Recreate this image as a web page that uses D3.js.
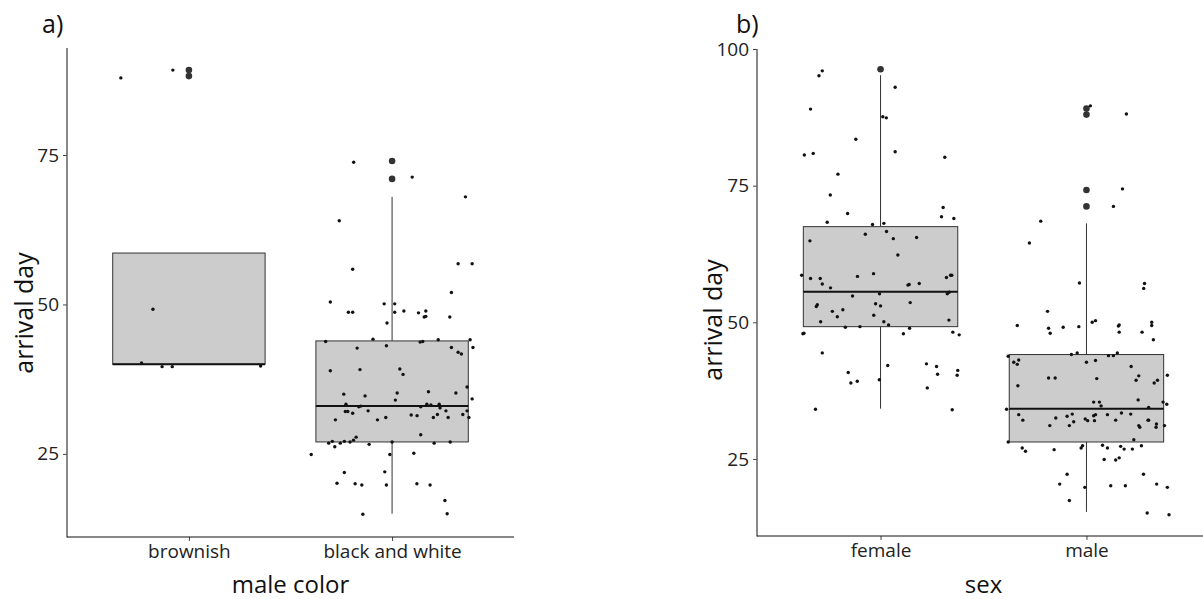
<!DOCTYPE html>
<meta charset="utf-8">
<body style="margin:0;background:#fff">
<script src="https://d3js.org/d3.v7.min.js"></script>
<script>
// panel a: male colour
var colorGroups = ["brownish", "black and white"];
var colorQ1 = [40, 27.0];
var colorMedian = [40, 33.0];
var colorQ3 = [58.6, 43.9];
var colorWhiskerLow = [40, 15.0];
var colorWhiskerHigh = [58.6, 68.0];
var colorOutliers = [[88.2, 89.2], [71.0, 74.0]];
var colorYTicks = [25, 50, 75];

// jittered raw points: [x offset in category units, arrival day]
var brownishPoints = [[-0.335, 87.9], [-0.079, 89.2], [-0.177, 49.2], [-0.233, 40.2], [-0.132, 39.6], [-0.082, 39.6], [0.353, 39.7]];
var blackWhitePoints = [
  [-0.189, 73.8], [0.099, 71.3], [0.361, 68.0], [-0.260, 64.0], [-0.194, 55.9], [0.325, 56.8], [0.394, 56.8], [0.292, 52.0],
  [-0.304, 50.4], [-0.039, 50.1], [0.013, 50.1], [-0.215, 48.7], [-0.194, 48.7], [0.013, 48.7], [0.058, 48.9], [0.130, 48.6],
  [0.166, 48.9], [0.158, 47.9], [0.166, 48.0], [0.284, 47.9], [-0.025, 46.9], [-0.094, 44.2], [0.227, 44.1], [0.384, 44.1],
  [-0.327, 43.8], [-0.172, 42.7], [-0.028, 43.1], [0.138, 43.7], [0.151, 43.8], [0.292, 42.8], [0.398, 42.8], [0.325, 42.0],
  [0.341, 41.7], [-0.304, 38.9], [-0.158, 39.1], [0.038, 39.2], [0.054, 38.3], [-0.238, 35.0], [-0.133, 34.7], [0.025, 35.2],
  [0.016, 34.0], [0.179, 35.4], [0.314, 35.2], [0.369, 36.2], [0.394, 34.2], [-0.227, 33.3], [-0.164, 32.9], [-0.154, 33.0],
  [0.141, 32.9], [0.171, 33.3], [0.191, 33.2], [0.232, 33.3], [0.236, 32.7], [-0.230, 32.1], [-0.218, 32.1], [-0.194, 31.8],
  [-0.118, 32.2], [0.265, 32.2], [0.369, 32.2], [0.348, 31.6], [-0.279, 30.7], [-0.072, 30.7], [-0.031, 31.1], [0.094, 31.5],
  [0.123, 31.4], [0.203, 31.1], [0.223, 31.6], [0.276, 31.1], [0.378, 31.1], [0.141, 28.2], [-0.177, 27.8], [-0.190, 27.3],
  [-0.312, 26.8], [-0.294, 27.1], [-0.282, 26.2], [-0.255, 26.8], [-0.235, 27.1], [-0.207, 27.0], [-0.113, 26.6], [0.000, 27.0],
  [0.207, 26.8], [0.286, 27.0], [-0.398, 24.9], [-0.011, 24.9], [0.107, 25.1], [-0.235, 21.9], [-0.036, 22.0], [-0.271, 20.1],
  [-0.182, 20.0], [-0.149, 19.8], [-0.028, 19.8], [0.122, 20.0], [0.187, 19.8], [0.260, 17.2], [-0.144, 14.9], [0.271, 15.0]
];

// panel b: sex
var sexGroups = ["female", "male"];
var sexQ1 = [49.2, 28.1];
var sexMedian = [55.6, 34.2];
var sexQ3 = [67.5, 44.1];
var sexWhiskerLow = [34.2, 15.3];
var sexWhiskerHigh = [95.2, 68.1];
var sexOutliers = [[96.3], [71.2, 74.2, 88.0, 89.1]];
var sexYTicks = [25, 50, 75, 100];

var femalePoints = [
  [-0.283, 96.0], [-0.299, 95.1], [0.071, 93.0], [-0.340, 89.0], [0.011, 87.6], [0.028, 87.4], [-0.120, 83.5], [-0.370, 80.6],
  [-0.327, 80.9], [0.071, 81.2], [0.312, 80.2], [-0.207, 77.1], [-0.244, 73.3], [0.304, 71.0], [-0.160, 69.9], [0.296, 69.3],
  [0.356, 69.0], [-0.259, 68.3], [-0.039, 67.9], [0.016, 68.1], [-0.074, 66.1], [0.029, 66.6], [-0.343, 64.9], [0.062, 65.3],
  [0.175, 65.5], [0.084, 62.3], [-0.383, 58.6], [-0.340, 58.0], [-0.293, 58.0], [-0.283, 57.0], [-0.243, 56.3], [-0.112, 58.4],
  [-0.034, 58.9], [0.133, 56.8], [0.139, 56.9], [0.188, 57.1], [0.320, 58.2], [0.340, 58.6], [0.346, 58.6], [-0.136, 54.8],
  [-0.005, 55.2], [0.324, 55.2], [0.333, 55.5], [-0.307, 53.2], [-0.312, 52.9], [-0.234, 52.0], [-0.183, 52.3], [-0.210, 51.0],
  [-0.024, 53.4], [0.000, 53.0], [0.144, 53.6], [-0.033, 51.3], [-0.291, 50.1], [0.016, 50.1], [0.039, 49.5], [0.332, 50.4],
  [-0.171, 49.1], [-0.100, 49.2], [0.141, 48.9], [-0.372, 48.0], [-0.377, 47.9], [0.111, 47.9], [0.351, 48.2], [0.382, 47.7],
  [-0.283, 44.4], [0.035, 42.1], [0.223, 42.4], [0.272, 41.9], [-0.157, 40.8], [0.277, 40.5], [0.375, 41.2], [0.372, 40.3],
  [-0.144, 38.9], [-0.113, 39.2], [-0.006, 39.5], [0.227, 38.0], [-0.316, 34.1], [0.348, 34.0]
];
var malePoints = [
  [0.019, 89.6], [0.194, 88.1], [0.175, 74.4], [0.131, 71.2], [-0.222, 68.5], [-0.277, 64.5], [-0.034, 57.2], [0.282, 57.1],
  [0.278, 56.2], [-0.189, 52.0], [-0.336, 49.4], [-0.184, 48.9], [-0.176, 48.0], [-0.113, 49.1], [-0.037, 49.2], [0.028, 50.0],
  [0.044, 50.3], [0.155, 49.3], [0.159, 49.5], [0.159, 48.2], [0.270, 48.2], [0.317, 50.0], [0.317, 49.4], [0.325, 46.8],
  [-0.073, 44.1], [-0.045, 44.4], [0.107, 43.9], [0.131, 43.9], [0.150, 44.4], [-0.380, 43.8], [-0.353, 42.7], [-0.336, 42.3],
  [-0.329, 43.1], [0.000, 42.7], [0.044, 43.0], [0.217, 41.9], [-0.184, 39.8], [-0.152, 39.8], [0.050, 39.7], [0.254, 40.2],
  [0.241, 39.4], [0.345, 39.4], [0.329, 38.9], [0.393, 40.3], [-0.333, 38.4], [0.251, 35.8], [0.035, 35.4], [0.063, 35.4],
  [0.071, 34.7], [0.372, 35.4], [0.390, 35.0], [0.302, 34.4], [-0.388, 34.1], [-0.329, 33.1], [-0.309, 32.1], [-0.178, 31.1],
  [-0.149, 32.5], [-0.094, 32.8], [-0.069, 33.2], [-0.062, 31.8], [-0.083, 31.1], [-0.006, 32.3], [0.006, 32.0], [0.035, 32.9],
  [0.044, 33.1], [0.039, 32.0], [0.102, 33.1], [0.142, 32.1], [0.170, 33.4], [0.215, 33.2], [0.254, 31.1], [0.259, 30.8],
  [0.299, 32.1], [0.302, 32.1], [0.340, 31.4], [0.338, 30.8], [0.379, 31.1], [0.230, 28.5], [-0.380, 28.1], [-0.312, 27.0],
  [-0.296, 26.4], [-0.157, 26.7], [-0.026, 27.0], [-0.019, 27.4], [0.078, 27.5], [0.102, 27.0], [0.166, 27.3], [0.183, 26.8],
  [0.223, 26.8], [0.267, 27.4], [0.086, 24.9], [0.142, 24.8], [0.159, 25.2], [-0.094, 22.2], [0.277, 22.2], [-0.130, 20.4],
  [-0.008, 19.8], [0.118, 20.1], [0.189, 20.1], [0.341, 20.4], [0.393, 19.8], [-0.083, 17.4], [0.295, 15.1], [0.401, 14.8]
];

var svg = d3.select("body").append("svg")
    .attr("width", 1203)
    .attr("height", 599)
    .style("font-family", "'Open Sans', sans-serif");

function drawPanel(opt) {
  var x = d3.scaleLinear().domain([0.4, 2.6]).range([opt.left, opt.right]);
  var y = d3.scaleLinear().domain(opt.yDomain).range([opt.bottom, opt.top]);
  var g = svg.append("g");
  var boxW = 0.75;

  // y axis ticks + labels
  var yAxis = d3.axisLeft(y).tickValues(opt.yTicks).tickSize(4).tickPadding(4);
  var ya = g.append("g").attr("transform", "translate(" + opt.left + ",0)").call(yAxis);
  ya.select(".domain").remove();
  ya.selectAll("line").attr("stroke", "#444");
  ya.selectAll("text").attr("font-size", "19px").attr("fill", "#222").attr("font-family", "'Open Sans', sans-serif");

  // x axis ticks + labels
  var xAxis = d3.axisBottom(x).tickValues([1, 2]).tickFormat(function(d) { return opt.groups[d - 1]; })
    .tickSize(4).tickPadding(4);
  var xa = g.append("g").attr("transform", "translate(0," + opt.bottom + ")").call(xAxis);
  xa.select(".domain").remove();
  xa.selectAll("line").attr("stroke", "#444");
  xa.selectAll("text").attr("font-size", "19px").attr("fill", "#222").attr("font-family", "'Open Sans', sans-serif");

  // boxes
  opt.groups.forEach(function(grp, i) {
    var c = i + 1;
    if (opt.whHigh[i] > opt.q3[i])
      g.append("line").attr("x1", x(c)).attr("x2", x(c)).attr("y1", y(opt.q3[i])).attr("y2", y(opt.whHigh[i]))
        .attr("stroke", "#333").attr("stroke-width", 1);
    if (opt.whLow[i] < opt.q1[i])
      g.append("line").attr("x1", x(c)).attr("x2", x(c)).attr("y1", y(opt.q1[i])).attr("y2", y(opt.whLow[i]))
        .attr("stroke", "#333").attr("stroke-width", 1);
    g.append("rect")
      .attr("x", x(c - boxW / 2)).attr("width", x(c + boxW / 2) - x(c - boxW / 2))
      .attr("y", y(opt.q3[i])).attr("height", y(opt.q1[i]) - y(opt.q3[i]))
      .attr("fill", "#cccccc").attr("stroke", "#333").attr("stroke-width", 1);
    g.append("line").attr("x1", x(c - boxW / 2)).attr("x2", x(c + boxW / 2))
      .attr("y1", y(opt.median[i])).attr("y2", y(opt.median[i]))
      .attr("stroke", "#111").attr("stroke-width", 2);
    g.selectAll(null).data(opt.outliers[i]).enter().append("circle")
      .attr("cx", x(c)).attr("cy", function(d) { return y(d); })
      .attr("r", 3.3).attr("fill", "#333");
    g.selectAll(null).data(opt.points[i]).enter().append("circle")
      .attr("cx", function(d) { return x(c + d[0]); })
      .attr("cy", function(d) { return y(d[1]); })
      .attr("r", 1.7).attr("fill", "#111");
  });

  // axis lines
  g.append("line").attr("x1", opt.left).attr("x2", opt.left).attr("y1", opt.top).attr("y2", opt.bottom + 0.5)
    .attr("stroke", "#555").attr("stroke-width", 1.4);
  g.append("line").attr("x1", opt.left).attr("x2", opt.right).attr("y1", opt.bottom).attr("y2", opt.bottom)
    .attr("stroke", "#111").attr("stroke-width", 1);

  // titles
  g.append("text").attr("x", (opt.left + opt.right) / 2).attr("y", 593)
    .attr("text-anchor", "middle").attr("font-size", "24px").attr("fill", "#111").text(opt.xTitle);
  g.append("text").attr("transform", "translate(" + opt.yTitleX + "," + opt.yTitleY + ") rotate(-90)")
    .attr("text-anchor", "middle").attr("font-size", "25px").attr("fill", "#111").text("arrival day");
  g.append("text").attr("x", opt.labelX).attr("y", 33).attr("font-size", "25px").attr("fill", "#111").text(opt.label);
}

drawPanel({
  left: 67, right: 514, top: 48, bottom: 537, yDomain: [11.1, 92.9],
  groups: colorGroups, q1: colorQ1, median: colorMedian, q3: colorQ3,
  whLow: colorWhiskerLow, whHigh: colorWhiskerHigh, outliers: colorOutliers,
  points: [brownishPoints, blackWhitePoints], yTicks: colorYTicks,
  xTitle: "male color", yTitleX: 33, yTitleY: 313, label: "a)", labelX: 42
});
drawPanel({
  left: 757, right: 1210, top: 49, bottom: 536, yDomain: [10.9, 100.0],
  groups: sexGroups, q1: sexQ1, median: sexMedian, q3: sexQ3,
  whLow: sexWhiskerLow, whHigh: sexWhiskerHigh, outliers: sexOutliers,
  points: [femalePoints, malePoints], yTicks: sexYTicks,
  xTitle: "sex", yTitleX: 722, yTitleY: 320, label: "b)", labelX: 736
});
</script>
</body>
